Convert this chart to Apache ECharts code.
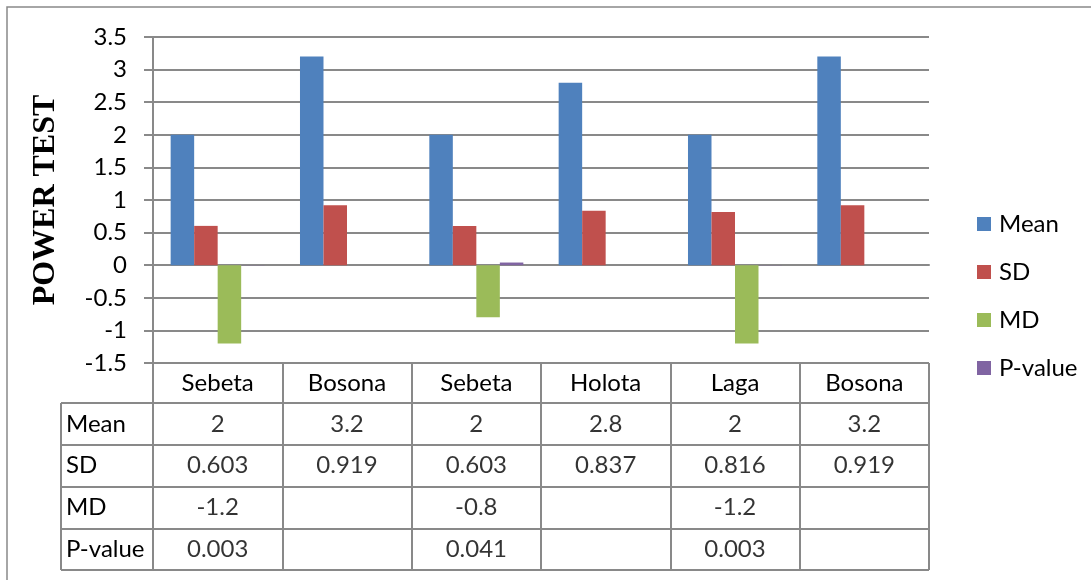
<!DOCTYPE html>
<html>
<head>
<meta charset="utf-8">
<script src="https://cdn.jsdelivr.net/npm/echarts@6/dist/echarts.min.js"></script>
<style>
  html, body { margin: 0; padding: 0; background: #fff; }
  #chart { width: 1091px; height: 580px; }
</style>
</head>
<body>
<div id="chart"></div>
<script>
// Sites compared in the power test
const categories = ['Sebeta', 'Bosona', 'Sebeta', 'Holota', 'Laga', 'Bosona'];
const rowNames = ['Mean', 'SD', 'MD', 'P-value'];

// Series values (null = no value for that site)
const meanValues = [2, 3.2, 2, 2.8, 2, 3.2];
const sdValues = [0.603, 0.919, 0.603, 0.837, 0.816, 0.919];
const mdValues = [-1.2, null, -0.8, null, -1.2, null];
const pValues = [0.003, null, 0.041, null, 0.003, null];

// Value axis ticks
const yMin = -1.5;
const yMax = 3.5;
const yStep = 0.5;

const colors = ['#4F81BD', '#C0504D', '#9BBB59', '#8064A2'];
const lineColor = '#898989';
const font = 'Lato, "Noto Sans", sans-serif';
const fontSize = 24;

const seriesRows = [meanValues, sdValues, mdValues, pValues];

// Bars for the upper grid
const barSeries = rowNames.map((name, i) => ({
  name: name,
  type: 'bar',
  xAxisIndex: 0,
  yAxisIndex: 0,
  data: seriesRows[i],
  barGap: '0%',
  barCategoryGap: '27.3%',
  itemStyle: { color: colors[i] },
  silent: true
}));

// Text cells for the data table grid
const tableSeries = rowNames.map((name, r) => ({
  type: 'scatter',
  xAxisIndex: 1,
  yAxisIndex: 1,
  symbolSize: 1,
  itemStyle: { color: 'rgba(0,0,0,0)' },
  silent: true,
  data: seriesRows[r]
    .map((v, c) => (v === null ? null : [c, r, String(v)]))
    .filter(d => d !== null),
  label: {
    show: true,
    position: 'inside',
    formatter: p => p.value[2],
    color: '#000',
    fontFamily: font,
    fontSize: fontSize
  }
}));

const chart = echarts.init(document.getElementById('chart'), null, { renderer: 'canvas' });

const gridLeft = 153, gridRight = 162;
const plotTop = 37, plotBottom = 363;
const tableTop = 403, tableBottom = 570;
const rowLabelLeft = 61;

chart.setOption({
  animation: false,
  backgroundColor: '#fff',
  textStyle: { fontFamily: font, color: '#000' },
  grid: [
    { left: gridLeft, right: gridRight, top: plotTop, height: plotBottom - plotTop },
    { left: gridLeft, right: gridRight, top: tableTop, height: tableBottom - tableTop }
  ],
  legend: {
    orient: 'vertical',
    left: 972,
    top: 207,
    itemWidth: 14,
    itemHeight: 14,
    itemGap: 24,
    icon: 'rect',
    data: rowNames,
    textStyle: { fontFamily: font, fontSize: fontSize, lineHeight: 24, color: '#000', padding: [0, 0, 0, 3] }
  },
  xAxis: [
    {
      gridIndex: 0,
      type: 'category',
      data: categories,
      axisLine: { show: true, onZero: true, lineStyle: { color: lineColor, width: 2 } },
      axisTick: { show: false },
      axisLabel: { show: false },
      splitLine: { show: false }
    },
    {
      gridIndex: 1,
      type: 'category',
      data: categories,
      position: 'top',
      axisLine: { show: true, lineStyle: { color: lineColor, width: 2 } },
      axisTick: { show: true, inside: false, length: tableTop - plotBottom, lineStyle: { color: lineColor, width: 2 } },
      axisLabel: { show: true, margin: 8, fontFamily: font, fontSize: fontSize, lineHeight: 24, color: '#000' },
      splitLine: { show: true, lineStyle: { color: lineColor, width: 2 } }
    }
  ],
  yAxis: [
    {
      gridIndex: 0,
      type: 'value',
      min: yMin,
      max: yMax,
      interval: yStep,
      name: 'POWER TEST',
      nameLocation: 'middle',
      nameRotate: 90,
      nameGap: 91,
      nameTextStyle: { fontFamily: '"Liberation Serif", serif', fontWeight: 'bold', fontSize: 32, color: '#000' },
      axisLine: { show: true, lineStyle: { color: lineColor, width: 2 } },
      axisTick: { show: true, length: 9, lineStyle: { color: lineColor, width: 2 } },
      axisLabel: { margin: 26, fontFamily: font, fontSize: fontSize, color: '#000' },
      splitLine: { show: true, lineStyle: { color: lineColor, width: 2 } }
    },
    {
      gridIndex: 1,
      type: 'category',
      data: rowNames,
      inverse: true,
      axisLine: { show: true, lineStyle: { color: lineColor, width: 2 } },
      axisTick: { show: true, inside: false, length: gridLeft - rowLabelLeft, lineStyle: { color: lineColor, width: 2 } },
      axisLabel: { show: true, margin: 87, align: 'left', fontFamily: font, fontSize: fontSize, color: '#000' },
      splitLine: { show: true, lineStyle: { color: lineColor, width: 2 } }
    }
  ],
  graphic: [
    // left edge of the row-name column
    {
      type: 'line',
      silent: true,
      shape: { x1: rowLabelLeft, y1: tableTop, x2: rowLabelLeft, y2: tableBottom },
      style: { stroke: lineColor, lineWidth: 2 }
    },
    // chart area frame
    {
      type: 'rect',
      silent: true,
      shape: { x: 7, y: 7, width: 1200, height: 700 },
      style: { fill: 'none', stroke: lineColor, lineWidth: 1.5 }
    }
  ],
  series: barSeries.concat(tableSeries)
});
</script>
</body>
</html>
